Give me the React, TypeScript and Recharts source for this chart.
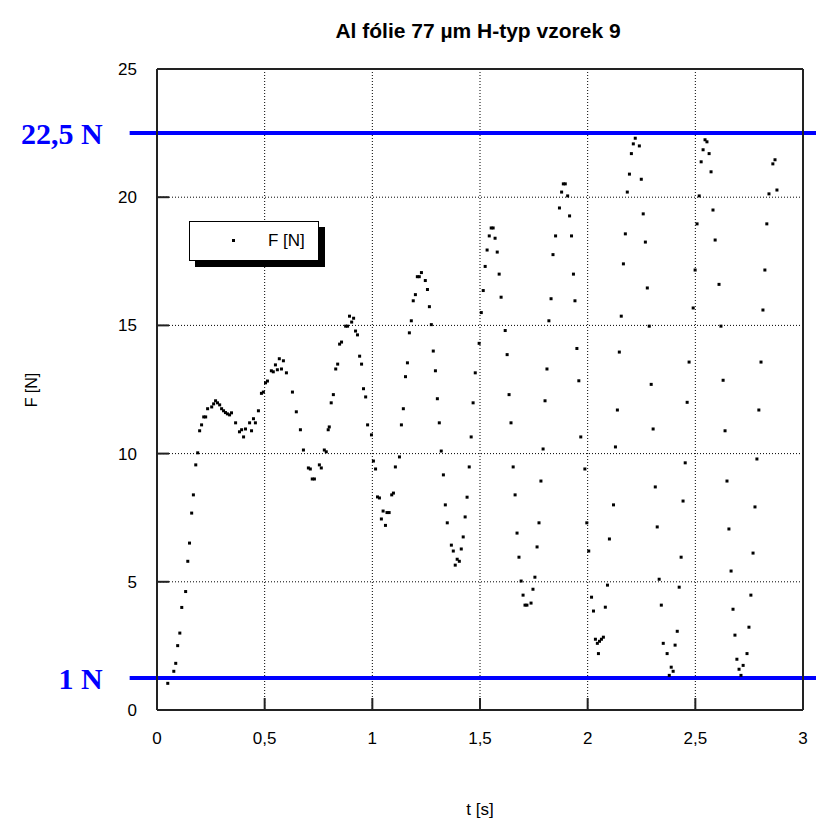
import React from "react";
import {
  ScatterChart,
  Scatter,
  XAxis,
  YAxis,
  CartesianGrid,
  ReferenceLine,
  Legend,
} from "recharts";

const chartTitle = "Al fólie 77 µm H-typ vzorek 9";
const xLabel = "t [s]";
const yLabel = "F [N]";
const seriesName = "F [N]";

const xTicks = [0, 0.5, 1, 1.5, 2, 2.5, 3];
const yTicks = [0, 5, 10, 15, 20, 25];

const limitValues = [22.5, 1.25];
const limitLabels = ["22,5 N", "1 N"];

const tValues = [
  0.05, 0.078, 0.087, 0.096, 0.106, 0.115, 0.133, 0.143, 0.151, 0.161, 0.169, 0.18, 0.189, 0.198, 0.207, 0.217,
  0.226, 0.235, 0.254, 0.263, 0.272, 0.281, 0.291, 0.3, 0.309, 0.318, 0.327, 0.337, 0.346, 0.365, 0.383, 0.393,
  0.402, 0.411, 0.43, 0.439, 0.448, 0.457, 0.471, 0.485, 0.494, 0.504, 0.513, 0.531, 0.54, 0.55, 0.559, 0.568,
  0.578, 0.587, 0.601, 0.629, 0.647, 0.666, 0.68, 0.703, 0.712, 0.721, 0.731, 0.754, 0.763, 0.777, 0.786, 0.795,
  0.8, 0.809, 0.819, 0.83, 0.839, 0.848, 0.857, 0.876, 0.885, 0.894, 0.904, 0.913, 0.922, 0.931, 0.941, 0.95,
  0.959, 0.969, 0.978, 0.996, 1.005, 1.015, 1.024, 1.033, 1.042, 1.05, 1.061, 1.068, 1.078, 1.09, 1.098, 1.107,
  1.126, 1.135, 1.144, 1.154, 1.163, 1.172, 1.181, 1.19, 1.2, 1.209, 1.218, 1.228, 1.246, 1.256, 1.265, 1.274,
  1.283, 1.293, 1.302, 1.311, 1.32, 1.33, 1.339, 1.348, 1.367, 1.376, 1.385, 1.394, 1.404, 1.413, 1.422, 1.431,
  1.44, 1.45, 1.459, 1.468, 1.478, 1.496, 1.506, 1.515, 1.524, 1.533, 1.543, 1.552, 1.561, 1.57, 1.58, 1.589,
  1.598, 1.617, 1.626, 1.635, 1.644, 1.654, 1.663, 1.672, 1.681, 1.691, 1.7, 1.709, 1.718, 1.737, 1.746, 1.755,
  1.765, 1.774, 1.783, 1.793, 1.802, 1.811, 1.82, 1.83, 1.839, 1.851, 1.869, 1.879, 1.887, 1.896, 1.907, 1.916,
  1.925, 1.934, 1.941, 1.95, 1.959, 1.968, 1.987, 1.996, 2.005, 2.018, 2.027, 2.036, 2.045, 2.05, 2.055, 2.064,
  2.073, 2.082, 2.092, 2.101, 2.12, 2.129, 2.138, 2.147, 2.156, 2.166, 2.175, 2.184, 2.194, 2.203, 2.212, 2.221,
  2.24, 2.249, 2.258, 2.268, 2.277, 2.286, 2.295, 2.304, 2.314, 2.323, 2.332, 2.342, 2.351, 2.369, 2.379, 2.388,
  2.397, 2.406, 2.416, 2.425, 2.434, 2.443, 2.453, 2.462, 2.471, 2.49, 2.499, 2.508, 2.518, 2.527, 2.536, 2.545,
  2.554, 2.564, 2.573, 2.582, 2.592, 2.61, 2.619, 2.629, 2.638, 2.647, 2.656, 2.666, 2.675, 2.684, 2.693, 2.703,
  2.712, 2.722, 2.74, 2.749, 2.758, 2.768, 2.777, 2.786, 2.795, 2.805, 2.814, 2.823, 2.832, 2.842, 2.86, 2.87,
  2.879,
];

const fValues = [
  1.04, 1.51, 1.82, 2.51, 3.0, 4.0, 4.62, 5.8, 6.51, 7.68, 8.39, 9.56, 10.03, 10.89, 11.12, 11.43,
  11.43, 11.75, 11.82, 11.94, 12.06, 11.98, 11.9, 11.75, 11.67, 11.6, 11.55, 11.51, 11.59, 11.2, 10.85, 10.93,
  10.65, 10.96, 11.2, 10.89, 11.36, 11.2, 11.67, 12.35, 12.4, 12.76, 12.83, 13.23, 13.19, 13.46, 13.27, 13.7,
  13.3, 13.62, 13.15, 12.4, 11.63, 10.93, 10.14, 9.44, 9.4, 9.01, 9.01, 9.56, 9.44, 10.14, 10.07, 10.93,
  11.04, 11.98, 12.3, 13.3, 13.49, 14.27, 14.35, 14.97, 14.97, 15.36, 15.13, 15.28, 14.78, 14.63, 13.8, 13.49,
  12.53, 12.21, 11.12, 10.73, 9.71, 9.4, 8.31, 8.27, 7.45, 7.76, 7.2, 7.7, 7.7, 8.39, 8.46, 9.48,
  9.87, 11.12, 11.75, 13.0, 13.54, 14.71, 15.18, 15.96, 16.2, 16.9, 16.9, 17.06, 16.75, 16.4, 15.73, 15.03,
  14.0, 13.23, 12.14, 11.2, 10.1, 9.17, 8.0, 7.3, 6.43, 6.2, 5.65, 5.88, 5.8, 6.28, 6.75, 7.53,
  8.3, 9.48, 10.65, 11.98, 13.15, 14.3, 15.5, 16.36, 17.3, 17.94, 18.49, 18.8, 18.8, 18.4, 17.86, 17.0,
  16.1, 14.8, 13.86, 12.3, 11.2, 9.48, 8.39, 6.9, 5.96, 5.03, 4.48, 4.09, 4.09, 4.17, 4.71, 5.18,
  6.36, 7.3, 8.93, 10.18, 12.06, 13.3, 15.18, 16.04, 17.76, 18.49, 19.58, 20.2, 20.52, 20.52, 20.05, 19.27,
  18.49, 17.0, 15.96, 14.1, 12.84, 10.65, 9.4, 7.3, 6.2, 4.4, 3.86, 2.76, 2.6, 2.2, 2.68, 2.76,
  2.84, 4.01, 4.87, 6.67, 8.0, 10.26, 11.7, 13.96, 15.36, 17.4, 18.57, 20.2, 20.9, 21.7, 22.08, 22.3,
  22.0, 20.7, 19.35, 18.25, 16.46, 14.97, 12.7, 10.96, 8.7, 7.14, 5.1, 4.09, 2.6, 2.2, 1.35, 1.67,
  1.51, 2.53, 3.07, 4.79, 5.96, 8.15, 9.64, 12.0, 13.57, 15.68, 17.16, 18.96, 20.05, 21.38, 21.85, 22.24,
  22.16, 21.7, 20.99, 19.5, 18.33, 16.6, 14.97, 12.86, 10.89, 8.93, 7.06, 5.42, 3.93, 2.92, 1.98, 1.59,
  1.35, 1.74, 2.2, 3.23, 4.48, 6.12, 7.92, 9.79, 11.7, 13.57, 15.6, 17.16, 18.96, 20.13, 21.3, 21.46,
  20.28,
];

const points = tValues.map((t, i) => ({ t, f: fValues[i] }));

const FONT = "'Liberation Sans', Arial, sans-serif";
const FRAME = "#222";

const fmt = (v: number) => String(v).replace(".", ",");

const Dot = (props: any) => {
  const { cx, cy } = props;
  if (cx == null || cy == null) return null;
  return <rect x={cx - 1.5} y={cy - 1.5} width={3} height={3} fill="#000" />;
};

const LegendBox = () => (
  <div
    style={{
      position: "relative",
      width: 130,
      height: 40,
      border: "1px solid #000",
      background: "#fff",
      boxShadow: "6px 6px 0 #000",
      fontFamily: FONT,
      fontSize: 17,
      color: "#000",
      boxSizing: "border-box",
    }}
  >
    <div
      style={{ position: "absolute", left: 42, top: 17, width: 3, height: 3, background: "#000" }}
    />
    <div style={{ position: "absolute", left: 78, top: 9, lineHeight: "20px" }}>{seriesName}</div>
  </div>
);

const SideTexts = () => (
  <g>
    <text
      x={470}
      y={30}
      textAnchor="middle"
      fontFamily={FONT}
      fontWeight="bold"
      fontSize={21}
      fill="#000"
    >
      {chartTitle}
    </text>
    <text
      x={25}
      y={382}
      transform="rotate(-90, 25, 382)"
      textAnchor="middle"
      dominantBaseline="middle"
      fontFamily={FONT}
      fontSize={16}
      fill="#000"
    >
      {yLabel}
    </text>
  </g>
);

export default function App() {
  return (
    <ScatterChart
      width={816}
      height={813}
      margin={{ top: 60, right: 20, bottom: 0, left: 0 }}
      style={{ background: "#fff" }}
    >
      <CartesianGrid stroke="#000" strokeDasharray="1 2" strokeWidth={1} />
      <XAxis
        dataKey="t"
        type="number"
        domain={[0, 3]}
        ticks={xTicks}
        tickFormatter={fmt}
        height={111}
        tickSize={-12}
        tickMargin={34}
        axisLine={{ stroke: FRAME, strokeWidth: 2 }}
        tickLine={{ stroke: FRAME, strokeWidth: 2 }}
        tick={{ fill: "#000", fontSize: 17, fontFamily: FONT }}
        label={{ value: xLabel, position: "insideBottom", offset: 6, fill: "#000", fontSize: 17, fontFamily: FONT }}
      />
      <XAxis
        xAxisId="top"
        orientation="top"
        type="number"
        domain={[0, 3]}
        ticks={xTicks}
        height={1}
        tickSize={-12}
        tick={false}
        axisLine={{ stroke: FRAME, strokeWidth: 2 }}
        tickLine={{ stroke: FRAME, strokeWidth: 2 }}
      />
      <YAxis
        dataKey="f"
        type="number"
        domain={[0, 25]}
        ticks={yTicks}
        width={149}
        tickSize={-12}
        tickMargin={32}
        axisLine={{ stroke: FRAME, strokeWidth: 2 }}
        tickLine={{ stroke: FRAME, strokeWidth: 2 }}
        tick={{ fill: "#000", fontSize: 17, fontFamily: FONT }}
        label={() => <SideTexts />}
      />
      <YAxis
        yAxisId="right"
        orientation="right"
        type="number"
        domain={[0, 25]}
        ticks={yTicks}
        width={1}
        tickSize={-12}
        tick={false}
        axisLine={{ stroke: FRAME, strokeWidth: 2 }}
        tickLine={{ stroke: FRAME, strokeWidth: 2 }}
      />
      {limitValues.map((v, i) => (
        <ReferenceLine
          key={limitLabels[i]}
          segment={[
            { x: -0.127, y: v },
            { x: 3.2, y: v },
          ]}
          ifOverflow="visible"
          stroke="#0000ff"
          strokeWidth={4}
          label={{
            value: limitLabels[i],
            position: "left",
            offset: 27,
            fill: "#0000ff",
            fontSize: 30,
            fontWeight: "bold",
            fontFamily: "'Liberation Serif', 'Times New Roman', serif",
          }}
        />
      ))}
      <Scatter
        name={seriesName}
        data={points}
        fill="#000"
        shape={Dot}
        isAnimationActive={false}
      />
      <Legend
        layout="vertical"
        align="center"
        verticalAlign="middle"
        content={() => <LegendBox />}
        wrapperStyle={{ position: "absolute", left: 181, top: 213, width: 140, height: 50 }}
      />
    </ScatterChart>
  );
}
